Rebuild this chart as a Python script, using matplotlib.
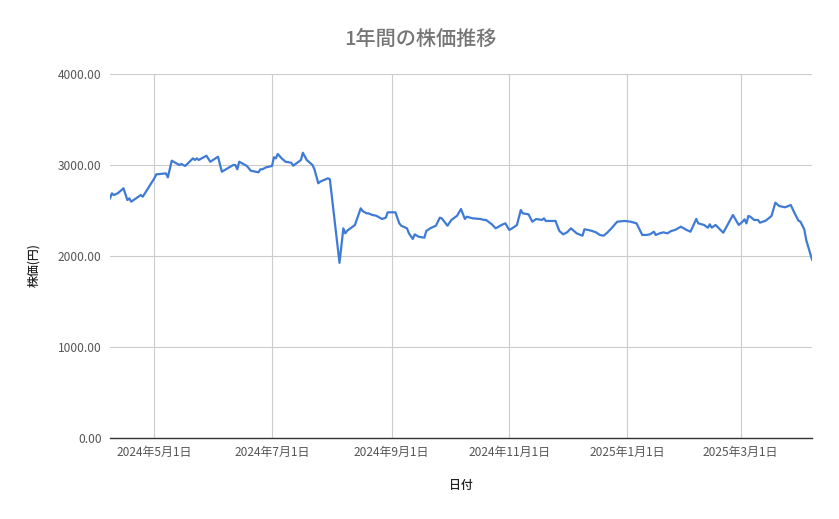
import matplotlib
matplotlib.use("Agg")
import matplotlib.pyplot as plt
import matplotlib.dates as mdates
import pandas as pd

plt.rcParams['font.family'] = ['Noto Sans CJK JP', 'DejaVu Sans']

title = "1年間の株価推移"
x_label = "日付"
y_label = "株価(円)"

dates = [
    "2024-04-08", "2024-04-09", "2024-04-10", "2024-04-12", "2024-04-15", "2024-04-17",
    "2024-04-18", "2024-04-19", "2024-04-24", "2024-04-25", "2024-05-01", "2024-05-02",
    "2024-05-07", "2024-05-08", "2024-05-10", "2024-05-14", "2024-05-15", "2024-05-17",
    "2024-05-21", "2024-05-22", "2024-05-23", "2024-05-24", "2024-05-28", "2024-05-30",
    "2024-06-03", "2024-06-05", "2024-06-10", "2024-06-11", "2024-06-12", "2024-06-13",
    "2024-06-14", "2024-06-17", "2024-06-18", "2024-06-20", "2024-06-24", "2024-06-25",
    "2024-06-26", "2024-06-28", "2024-07-01", "2024-07-02", "2024-07-03", "2024-07-04",
    "2024-07-06", "2024-07-08", "2024-07-11", "2024-07-12", "2024-07-16", "2024-07-17",
    "2024-07-19", "2024-07-22", "2024-07-23", "2024-07-25", "2024-07-26", "2024-07-30",
    "2024-07-31", "2024-08-05", "2024-08-07", "2024-08-08", "2024-08-09", "2024-08-13",
    "2024-08-16", "2024-08-17", "2024-08-19", "2024-08-20", "2024-08-22", "2024-08-24",
    "2024-08-27", "2024-08-29", "2024-08-30", "2024-09-03", "2024-09-05", "2024-09-06",
    "2024-09-09", "2024-09-10", "2024-09-12", "2024-09-13", "2024-09-15", "2024-09-18",
    "2024-09-19", "2024-09-21", "2024-09-24", "2024-09-26", "2024-09-27", "2024-09-30",
    "2024-10-02", "2024-10-05", "2024-10-07", "2024-10-09", "2024-10-10", "2024-10-13",
    "2024-10-17", "2024-10-19", "2024-10-20", "2024-10-23", "2024-10-25", "2024-10-28",
    "2024-10-30", "2024-11-01", "2024-11-03", "2024-11-05", "2024-11-07", "2024-11-08",
    "2024-11-11", "2024-11-13", "2024-11-15", "2024-11-18", "2024-11-19", "2024-11-20",
    "2024-11-25", "2024-11-27", "2024-11-29", "2024-12-01", "2024-12-03", "2024-12-06",
    "2024-12-09", "2024-12-10", "2024-12-12", "2024-12-14", "2024-12-16", "2024-12-18",
    "2024-12-20", "2024-12-22", "2024-12-24", "2024-12-27", "2024-12-31", "2025-01-03",
    "2025-01-06", "2025-01-09", "2025-01-11", "2025-01-13", "2025-01-15", "2025-01-16",
    "2025-01-18", "2025-01-20", "2025-01-22", "2025-01-24", "2025-01-26", "2025-01-29",
    "2025-02-01", "2025-02-03", "2025-02-06", "2025-02-07", "2025-02-10", "2025-02-12",
    "2025-02-13", "2025-02-14", "2025-02-16", "2025-02-20", "2025-02-25", "2025-02-28",
    "2025-03-02", "2025-03-03", "2025-03-04", "2025-03-05", "2025-03-06", "2025-03-08",
    "2025-03-10", "2025-03-11", "2025-03-14", "2025-03-17", "2025-03-19", "2025-03-21",
    "2025-03-24", "2025-03-27", "2025-03-29", "2025-03-31", "2025-04-01", "2025-04-03",
    "2025-04-04", "2025-04-07",
]

prices = [
    2634, 2689, 2670, 2689, 2744, 2615,
    2634, 2597, 2670, 2652, 2854, 2897,
    2908, 2864, 3047, 3000, 3011, 2989,
    3073, 3055, 3073, 3055, 3102, 3036,
    3091, 2926, 2989, 3000, 3000, 2953,
    3036, 3000, 2989, 2937, 2920, 2953,
    2953, 2975, 2989, 3085, 3073, 3121,
    3073, 3036, 3025, 2992, 3055, 3135,
    3055, 3000, 2953, 2799, 2817, 2854,
    2843, 1925, 2304, 2249, 2278, 2341,
    2524, 2494, 2469, 2469, 2451, 2443,
    2407, 2421, 2480, 2480, 2359, 2333,
    2304, 2249, 2187, 2238, 2212, 2201,
    2275, 2304, 2333, 2421, 2414, 2333,
    2396, 2443, 2516, 2407, 2432, 2414,
    2407, 2396, 2396, 2348, 2304, 2341,
    2359, 2286, 2311, 2341, 2505, 2469,
    2458, 2377, 2407, 2396, 2414, 2385,
    2385, 2275, 2238, 2260, 2304, 2249,
    2223, 2293, 2286, 2275, 2260, 2231,
    2223, 2260, 2304, 2377, 2385, 2377,
    2359, 2231, 2231, 2238, 2267, 2231,
    2249, 2260, 2249, 2275, 2286, 2322,
    2286, 2267, 2407, 2359, 2341, 2311,
    2348, 2311, 2341, 2256, 2451, 2341,
    2377, 2403, 2359, 2440, 2432, 2396,
    2396, 2366, 2388, 2440, 2586, 2549,
    2535, 2560, 2469, 2388, 2377, 2293,
    2176, 1960,
]

y_ticks = [0, 1000, 2000, 3000, 4000]
x_ticks = ["2024-05-01", "2024-07-01", "2024-09-01", "2024-11-01", "2025-01-01", "2025-03-01"]
x_tick_labels = ["2024年5月1日", "2024年7月1日", "2024年9月1日", "2024年11月1日", "2025年1月1日", "2025年3月1日"]

df = pd.DataFrame({"date": pd.to_datetime(dates), "price": prices})

fig = plt.figure(figsize=(8.39, 5.19), dpi=100)
ax = fig.add_axes([110/839, 1-438/519, (812-110)/839, (438-74)/519])

ax.plot(df["date"], df["price"], color="#3f7bd6", linewidth=1.6, solid_joinstyle="round")

ax.set_ylim(0, 4000)
ax.set_xlim(pd.Timestamp("2024-04-08"), pd.Timestamp("2025-04-07"))
ax.set_yticks(y_ticks)
ax.set_yticklabels([f"{v:.2f}" for v in y_ticks])
ax.set_xticks(pd.to_datetime(x_ticks))
ax.set_xticklabels(x_tick_labels)

ax.grid(True, color="#cccccc", linewidth=0.8)
ax.set_axisbelow(True)
for s in ["top", "right", "left"]:
    ax.spines[s].set_visible(False)
ax.spines["bottom"].set_color("#333333")
ax.spines["bottom"].set_linewidth(1.0)
ax.tick_params(axis="both", length=0, labelsize=8.6, labelcolor="#555555")
ax.tick_params(axis="x", pad=6)
ax.tick_params(axis="y", pad=6)

fig.text(420/839, 1-39/519, title, ha="center", va="center", fontsize=14.5,
         color="#757575", fontweight="medium")
fig.text(461/839, 1-485/519, x_label, ha="center", va="center", fontsize=8.6,
         color="#222222", fontweight="medium")
fig.text(34/839, 1-265/519, y_label, ha="center", va="center", fontsize=8.6,
         color="#222222", rotation=90, fontweight="medium")

fig.savefig("out.png", dpi=100)
